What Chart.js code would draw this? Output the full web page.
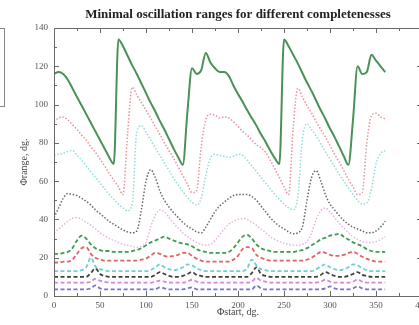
<!DOCTYPE html>
<html>
<head>
<meta charset="utf-8">
<script src="https://cdn.jsdelivr.net/npm/chart.js@4"></script>
<style>
    html, body { margin: 0; padding: 0; background: #fff; overflow: hidden; }
    #wrap { position: relative; width: 419px; height: 325px; overflow: hidden; }
    #legend-box { position: absolute; left: -10px; top: 28px; width: 13px; height: 77px; border: 1px solid #888; }
    canvas { position: absolute; left: 0; top: 0; }
</style>
</head>
<body>
<div id="wrap">
    <div id="legend-box"></div>
    <canvas id="chart" width="474" height="325"></canvas>
</div>
<script>
// Start angle, degrees (shared by every curve)
const phiStart = [
    0, 5, 10, 15, 20, 25, 30, 35, 40,
    45, 50, 55, 60, 65, 70, 75, 80, 85,
    90, 95, 100, 105, 110, 115, 120, 125, 130,
    135, 140, 145, 150, 155, 160, 165, 170, 175,
    180, 185, 190, 195, 200, 205, 210, 215, 220,
    225, 230, 235, 240, 245, 250, 255, 260, 265,
    270, 275, 280, 285, 290, 295, 300, 305, 310,
    315, 320, 325, 330, 335, 340, 345, 350, 355,
    360
];

// Minimal range, degrees - solid and dotted curves
const rangeSolidGreen = [
    116, 117, 116, 113, 108.5, 104, 99.5, 95, 90.5,
    86, 81.5, 77, 72.5, 69, 134, 130.5, 125.5, 120.5,
    116, 111, 106, 101, 96.5, 91.5, 87, 82, 77,
    72.5, 68.5, 96, 119, 116, 118, 127, 122, 119,
    117, 117, 115, 110, 105.5, 101.5, 97, 93, 89,
    84.5, 80.5, 76, 72, 69, 134, 130.5, 126, 121.5,
    116.5, 111.5, 107, 102, 97, 92.5, 87.5, 83, 78,
    73, 68.5, 92, 120, 116, 117, 126, 123, 120,
    117
];
const rangeDotRed = [
    91, 93, 93.5, 92, 89.5, 87, 84, 81.5, 78,
    75, 71.5, 68, 64, 60.5, 57, 53, 85, 109,
    105, 101, 97, 93, 88.5, 84.5, 80, 76, 72,
    67.5, 63, 58.5, 54, 55, 78, 92, 95, 94.5,
    93, 93.5, 93, 91, 88.5, 86, 84, 81.5, 79,
    77.5, 75, 71, 66.5, 62, 57, 53, 88, 108.5,
    104, 99.5, 95.5, 91, 87, 83, 78.5, 74, 70,
    65.5, 61, 57, 53, 54, 80, 94, 95.5, 93.5,
    92.5
];
const rangeDotCyan = [
    73.5, 74, 74.5, 75.5, 76, 73.5, 71, 68, 65,
    62, 59, 56, 53, 50.5, 48, 46, 44.5, 48,
    86, 89, 85.5, 81.5, 77.5, 73.5, 69.5, 65.5, 61.5,
    58, 54.5, 51.5, 49, 47.5, 51, 63, 72, 74,
    73.5, 73, 72.5, 73, 74, 73.5, 71, 68, 65,
    62, 59, 56, 53, 50.5, 48, 46, 45, 52,
    82, 90, 87, 83.5, 79.5, 75.5, 71.5, 67.5, 63.5,
    60, 56.5, 53, 50, 48, 48.5, 56, 69, 74.5,
    76
];
const rangeDotBlack = [
    41, 46, 51, 53.5, 53, 52.5, 51, 49.5, 47.5,
    45, 43, 41, 39, 37.5, 36, 34.5, 33.5, 33,
    34, 45, 60, 66, 62, 55, 50, 46.5, 43.5,
    41, 38.5, 36.5, 35, 33.5, 33, 36, 40, 44,
    47, 49, 51, 52.5, 53, 53, 53, 52, 50,
    47, 44, 41, 38.5, 36.5, 35, 33.5, 32.5, 33,
    36, 50, 62, 65.5, 60, 53, 48, 45, 42,
    39.5, 37.5, 36, 35, 34, 33, 33, 34, 36,
    39
];
const rangeDotPink = [
    33, 35, 37, 39, 40.5, 41, 40, 38.5, 37,
    35, 33, 31.5, 30, 29, 28, 27, 26.5, 26,
    25.5, 26, 28, 36, 42, 45, 44, 41, 38,
    35.5, 33, 31, 29.5, 28, 27, 26.5, 27, 29,
    32, 35, 37.5, 39, 40, 40.5, 40, 38.5, 37,
    35, 33, 31, 29.5, 28.5, 27.5, 27, 26.5, 26.5,
    27, 28.5, 33, 40, 44.5, 46, 44, 41, 38,
    35.5, 33, 31, 29.5, 28.5, 28, 28, 28.5, 29.5,
    31
];

// Minimal range, degrees - dashed curves
const rangeDashGreen = [
    22, 22, 22.5, 23, 25, 29, 31.5, 30, 27,
    25, 24, 23.5, 23.5, 23, 23, 23, 23, 23.5,
    24, 25, 26.5, 28, 29, 30, 31, 30, 29,
    28, 27.5, 27, 26, 24.5, 23.5, 23, 22.5, 22.5,
    22.5, 22.5, 23, 25, 28, 31, 32, 30, 27,
    25, 24, 23.5, 23, 23, 23, 23, 23, 23.5,
    24, 25, 26.5, 28, 29.5, 30.5, 31.5, 32, 32.5,
    31, 29.5, 28, 27, 26, 24.5, 23.5, 23, 23,
    23
];
const rangeDashRed = [
    17.5, 17.5, 18, 18, 19, 22, 25, 25.5, 22,
    20, 19, 18.5, 18.5, 18.5, 18.5, 18.5, 18.5, 18.5,
    18.5, 19, 19.5, 21, 22.5, 22, 21, 20.5, 21,
    21.5, 22.5, 22.5, 21, 19.5, 18.5, 18, 18, 18,
    18, 18, 18, 19, 21, 24.5, 25.5, 25, 21.5,
    20, 19, 18.5, 18.5, 18.5, 18.5, 18.5, 18.5, 18.5,
    18.5, 19, 20, 21.5, 23, 22.5, 21.5, 21, 21,
    21.5, 22.5, 23, 22, 20.5, 19.5, 18.5, 18, 18,
    18
];
const rangeDashCyan = [
    13, 13, 13, 13, 13, 13, 13.5, 15, 20,
    15.5, 14, 13.5, 13, 13, 13, 13, 13, 13,
    13, 13, 13, 13.5, 15, 16.5, 15, 14, 13.5,
    14, 15, 16.5, 16, 14.5, 13.5, 13, 13, 13,
    13, 13, 13, 13, 13, 13, 14.5, 19, 16,
    14, 13.5, 13, 13, 13, 13, 13, 13, 13,
    13, 13, 13, 14, 15.5, 16.5, 15, 14, 13.5,
    14, 15, 16.5, 16, 14.5, 13.5, 13, 13, 13,
    13
];
const rangeDashBlack = [
    10, 10, 10, 10, 10, 10, 10, 10, 12,
    14.5, 11.5, 10.5, 10, 10, 10, 10, 10, 10,
    10, 10, 10, 10, 11, 12.5, 11.5, 10.5, 10,
    10, 10.5, 11.5, 12.5, 11, 10.5, 10, 10, 10,
    10, 10, 10, 10, 10, 10, 10, 12, 15,
    11.5, 10.5, 10, 10, 10, 10, 10, 10, 10,
    10, 10, 10, 10, 11, 12.5, 11.5, 10.5, 10,
    10, 10.5, 11.5, 12.5, 11, 10.5, 10, 10, 10,
    10
];
const rangeDashMagenta = [
    7, 7, 7, 7, 7, 7, 7, 7, 7.5,
    9, 8, 7.5, 7, 7, 7, 7, 7, 7,
    7, 7, 7, 7, 7.5, 8, 7.5, 7, 7,
    7, 7, 7.5, 8.5, 7.5, 7, 7, 7, 7,
    7, 7, 7, 7, 7, 7, 7, 7.5, 9.5,
    8, 7.5, 7, 7, 7, 7, 7, 7, 7,
    7, 7, 7, 7, 7.5, 8.5, 7.5, 7, 7,
    7, 7, 7.5, 8.5, 7.5, 7, 7, 7, 7,
    7
];
const rangeDashBlue = [
    3.5, 3.5, 3.5, 3.5, 3.5, 3.5, 3.5, 3.5, 4,
    5.5, 4, 3.5, 3.5, 3.5, 3.5, 3.5, 3.5, 3.5,
    3.5, 3.5, 3.5, 3.5, 3.5, 4.5, 4, 3.5, 3.5,
    3.5, 3.5, 4, 4.5, 3.5, 3.5, 3.5, 3.5, 3.5,
    3.5, 3.5, 3.5, 3.5, 3.5, 3.5, 3.5, 3.5, 5.5,
    4, 3.5, 3.5, 3.5, 3.5, 3.5, 3.5, 3.5, 3.5,
    3.5, 3.5, 3.5, 3.5, 3.5, 4, 5, 4, 3.5,
    3.5, 3.5, 4, 5, 4, 3.5, 3.5, 3.5, 3.5,
    3.5
];

const xTicks = [0, 50, 100, 150, 200, 250, 300, 350, 400];
const yTicks = [0, 20, 40, 60, 80, 100, 120, 140];

const serif = '"Liberation Serif", "DejaVu Serif", serif';
const DOT = [1.5, 1.8];
const DASH = [4, 2.5];

const curves = [
    { values: rangeSolidGreen, color: '#4a9058', dash: [], width: 2 },
    { values: rangeDotRed, color: '#e8909c', dash: DOT, width: 1.5 },
    { values: rangeDotCyan, color: '#8edcdc', dash: DOT, width: 1.5 },
    { values: rangeDotBlack, color: '#666666', dash: DOT, width: 1.5 },
    { values: rangeDotPink, color: '#e8b2e0', dash: DOT, width: 1.5 },
    { values: rangeDashGreen, color: '#3f9a52', dash: DASH, width: 1.8 },
    { values: rangeDashRed, color: '#e06464', dash: DASH, width: 1.8 },
    { values: rangeDashCyan, color: '#70d0d0', dash: DASH, width: 1.8 },
    { values: rangeDashBlack, color: '#404040', dash: DASH, width: 1.8 },
    { values: rangeDashMagenta, color: '#d884dc', dash: DASH, width: 1.8 },
    { values: rangeDashBlue, color: '#7474d4', dash: DASH, width: 1.8 },
];

const datasets = curves.map(c => ({
    data: phiStart.map((x, i) => ({ x: x, y: c.values[i] })),
    borderColor: c.color,
    borderWidth: c.width,
    borderDash: c.dash,
    pointRadius: 0,
    fill: false,
    cubicInterpolationMode: 'monotone',
}));

// gnuplot-like frame: border on all sides with inward ticks
const frameTicks = {
    id: 'frameTicks',
    afterDatasetsDraw(chart) {
        const { ctx, chartArea: a, scales: { x, y } } = chart;
        ctx.save();
        ctx.strokeStyle = '#6a6a6a';
        ctx.lineWidth = 1;
        ctx.strokeRect(Math.round(a.left) + 0.5, Math.round(a.top) + 0.5,
            Math.round(a.right - a.left), Math.round(a.bottom - a.top));
        ctx.beginPath();
        x.ticks.forEach(t => {
            const px = Math.round(x.getPixelForValue(t.value)) + 0.5;
            const len = xTicks.includes(t.value) ? 5 : 3;
            ctx.moveTo(px, a.bottom); ctx.lineTo(px, a.bottom - len);
            ctx.moveTo(px, a.top); ctx.lineTo(px, a.top + len);
        });
        y.ticks.forEach(t => {
            const py = Math.round(y.getPixelForValue(t.value)) + 0.5;
            const len = yTicks.includes(t.value) ? 5 : 3;
            ctx.moveTo(a.left, py); ctx.lineTo(a.left + len, py);
            ctx.moveTo(a.right, py); ctx.lineTo(a.right - len, py);
        });
        ctx.stroke();
        ctx.restore();
    }
};

// plot heading, centred over the frame
const heading = {
    id: 'heading',
    afterDraw(chart) {
        const { ctx, chartArea: a } = chart;
        ctx.save();
        ctx.font = 'bold 13px ' + serif;
        ctx.fillStyle = '#222';
        ctx.textAlign = 'center';
        ctx.textBaseline = 'middle';
        ctx.fillText('Minimal oscillation ranges for different completenesses', (a.left + a.right) / 2, 15);
        ctx.restore();
    }
};

const ctx = document.getElementById('chart').getContext('2d');
new Chart(ctx, {
    type: 'line',
    data: { datasets: datasets },
    options: {
        responsive: false,
        animation: false,
        layout: { padding: { top: 28, right: 52, left: 0, bottom: 0 } },
        plugins: {
            legend: { display: false },
            tooltip: { enabled: false },
        },
        scales: {
            x: {
                type: 'linear',
                min: 0,
                max: 400,
                afterFit: s => { s.height = 29; },
                grid: { display: false, drawTicks: false },
                border: { display: false },
                ticks: {
                    stepSize: 25,
                    autoSkip: false,
                    maxRotation: 0,
                    padding: 4,
                    color: '#555',
                    font: { family: serif, size: 9 },
                    callback: v => xTicks.includes(v) ? v : '',
                },
                title: {
                    display: true,
                    text: 'Φstart, dg.',
                    color: '#444',
                    font: { family: serif, size: 10 },
                    padding: { top: 0, bottom: 7 },
                },
            },
            y: {
                min: 0,
                max: 140,
                afterFit: s => { s.width = 54; },
                grid: { display: false, drawTicks: false },
                border: { display: false },
                ticks: {
                    stepSize: 10,
                    autoSkip: false,
                    padding: 6,
                    color: '#555',
                    font: { family: serif, size: 9 },
                    callback: v => yTicks.includes(v) ? v : '',
                },
                title: {
                    display: true,
                    text: 'Φrange, dg.',
                    color: '#444',
                    font: { family: serif, size: 10 },
                    padding: { top: 18, bottom: 0 },
                },
            },
        },
    },
    plugins: [frameTicks, heading],
});
</script>
</body>
</html>
